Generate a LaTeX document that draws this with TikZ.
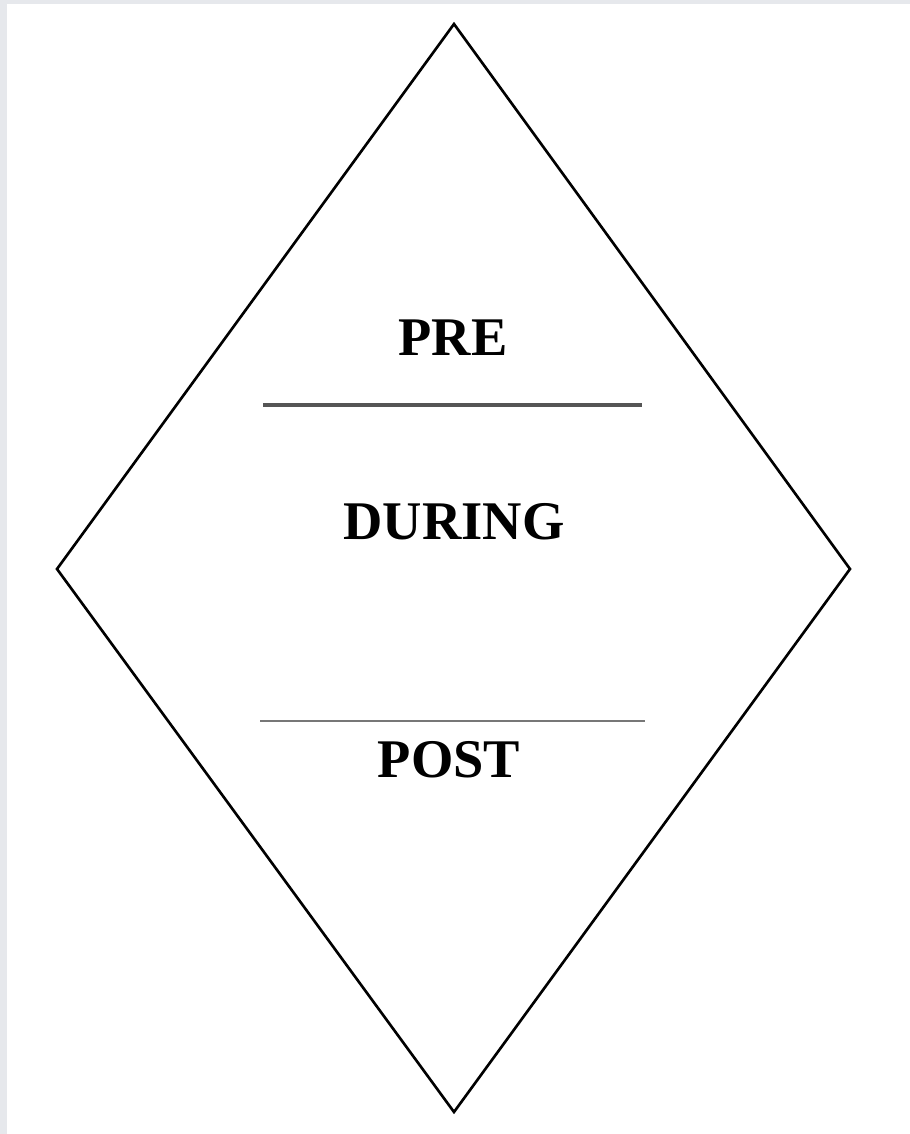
\documentclass[tikz,border=0pt]{standalone}
\usepackage{fontspec}
\setmainfont{Liberation Serif}
\usepackage{xcolor}
\definecolor{frame}{HTML}{E6E8EC}
\definecolor{rule}{HTML}{555555}

\begin{document}
\begin{tikzpicture}[x=0.02cm,y=-0.02cm,
  phase/.style={font=\fontsize{31}{36}\selectfont\bfseries, inner sep=0pt}]
\fill[frame] (0,0) rectangle (910,1134);
\fill[white] (7,4) rectangle (910,1134);
\useasboundingbox (0,0) rectangle (910,1134);
\coordinate (top) at (454,24);
\coordinate (right) at (850,569);
\coordinate (bottom) at (454,1112);
\coordinate (left) at (57,569);
\draw[line width=1.5pt, line join=miter] (top) -- (right) -- (bottom) -- (left) -- cycle;
\node[phase] (pre) at (453,338) {PRE};
\node[phase] (during) at (454,522) {DURING};
\node[phase] (post) at (449,760) {POST};
\coordinate (a1) at (263,405);
\coordinate (a2) at (642,405);
\coordinate (b1) at (260,721);
\coordinate (b2) at (645,721);
\draw[rule, line width=2pt] (a1) -- (a2);
\draw[rule!80, line width=1pt] (b1) -- (b2);
\end{tikzpicture}
\end{document}
